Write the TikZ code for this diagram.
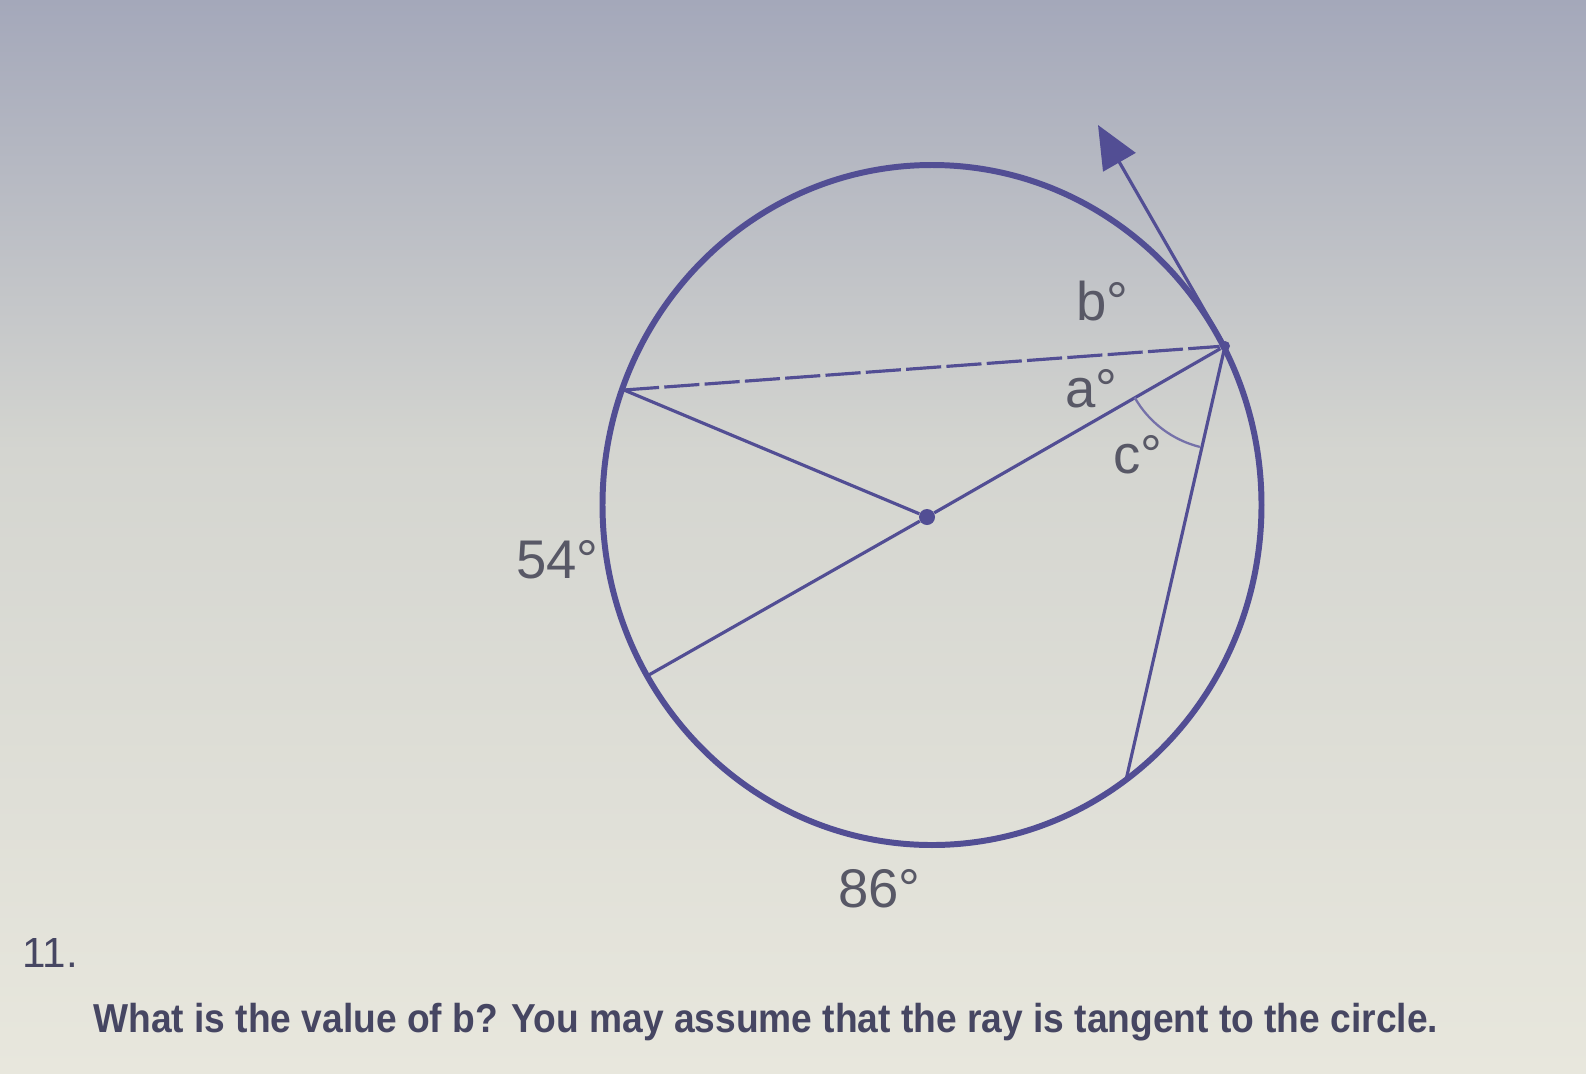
\documentclass[tikz,border=0pt]{standalone}
\usepackage{fontspec}
\setmainfont{Liberation Sans}
\usepackage{graphicx}
\usetikzlibrary{arrows.meta, calc}
\definecolor{inkcolor}{RGB}{82,78,148}
\definecolor{labelcolor}{RGB}{88,88,102}
\definecolor{textcolor}{RGB}{70,70,98}
\definecolor{bgtop}{RGB}{164,168,186}
\definecolor{bgmid}{RGB}{212,213,208}
\definecolor{bgbot}{RGB}{232,231,221}

\begin{document}
\begin{tikzpicture}[
    x=0.02cm, y=-0.02cm,
    rim/.style={draw=inkcolor, line width=3.4pt},
    chord/.style={draw=inkcolor, line width=1.8pt},
    dashchord/.style={chord, dash pattern=on 20pt off 3pt},
    ray/.style={chord, -{Triangle[length=0.86cm, width=0.74cm]}},
    angmark/.style={draw=inkcolor!80, line width=1.3pt},
    pt/.style={circle, fill=inkcolor, inner sep=0pt, minimum size=#1},
    deg/.style={font=\fontsize{31}{36}\selectfont, text=labelcolor, inner sep=0pt, anchor=base west}
]
    % Background
    \useasboundingbox (0,0) rectangle (1586,1073);
    \shade[top color=bgtop, bottom color=bgmid] (0,0) rectangle (1586,451);
    \shade[top color=bgmid, bottom color=bgbot] (0,450) rectangle (1586,1073);

    % Circle and points on it
    \coordinate (C) at (932,505);
    \draw[rim] (C) ellipse [x radius=329.5, y radius=340];
    \node[pt=0.32cm] (O) at (927,517) {};
    \node[pt=0.2cm] (P) at (1225,346) {};
    \coordinate (L) at (624,390);
    \coordinate (D) at (647,676);
    \coordinate (Q) at (1126,780);
    \coordinate (T) at (1098,125);

    % Chords, radii and the tangent ray
    \draw[dashchord] (L) -- (P);
    \draw[chord] (L) -- (O);
    \draw[chord] (D) -- (O);
    \draw[chord] (O) -- (P);
    \draw[chord] (P) -- (Q);
    \draw[ray] (P) -- (T);

    % Angle mark c
    \draw[angmark] ($(P.center)+(150.3:104)$) arc[start angle=150.3, end angle=104, radius=104];

    % Labels
    \node[deg] (lb) at (1076,320) {b°};
    \node[deg] (la) at (1065,407) {a°};
    \node[deg] (lc) at (1113,473) {c°};
    \node[deg] (l54) at (516,578) {54°};
    \node[deg] (l86) at (838,907) {86°};

    % Question
    \node[font=\fontsize{24}{28}\selectfont, text=textcolor, anchor=base west, inner sep=0pt] (num) at (22,967) {11.};
    \node[font=\fontsize{23}{28}\selectfont\bfseries, text=textcolor, anchor=base west, inner sep=0pt] (question) at (93,1032)
        {\resizebox{26.9cm}{\height}{What is the value of b? You may assume that the ray is tangent to the circle.}};
\end{tikzpicture}
\end{document}
